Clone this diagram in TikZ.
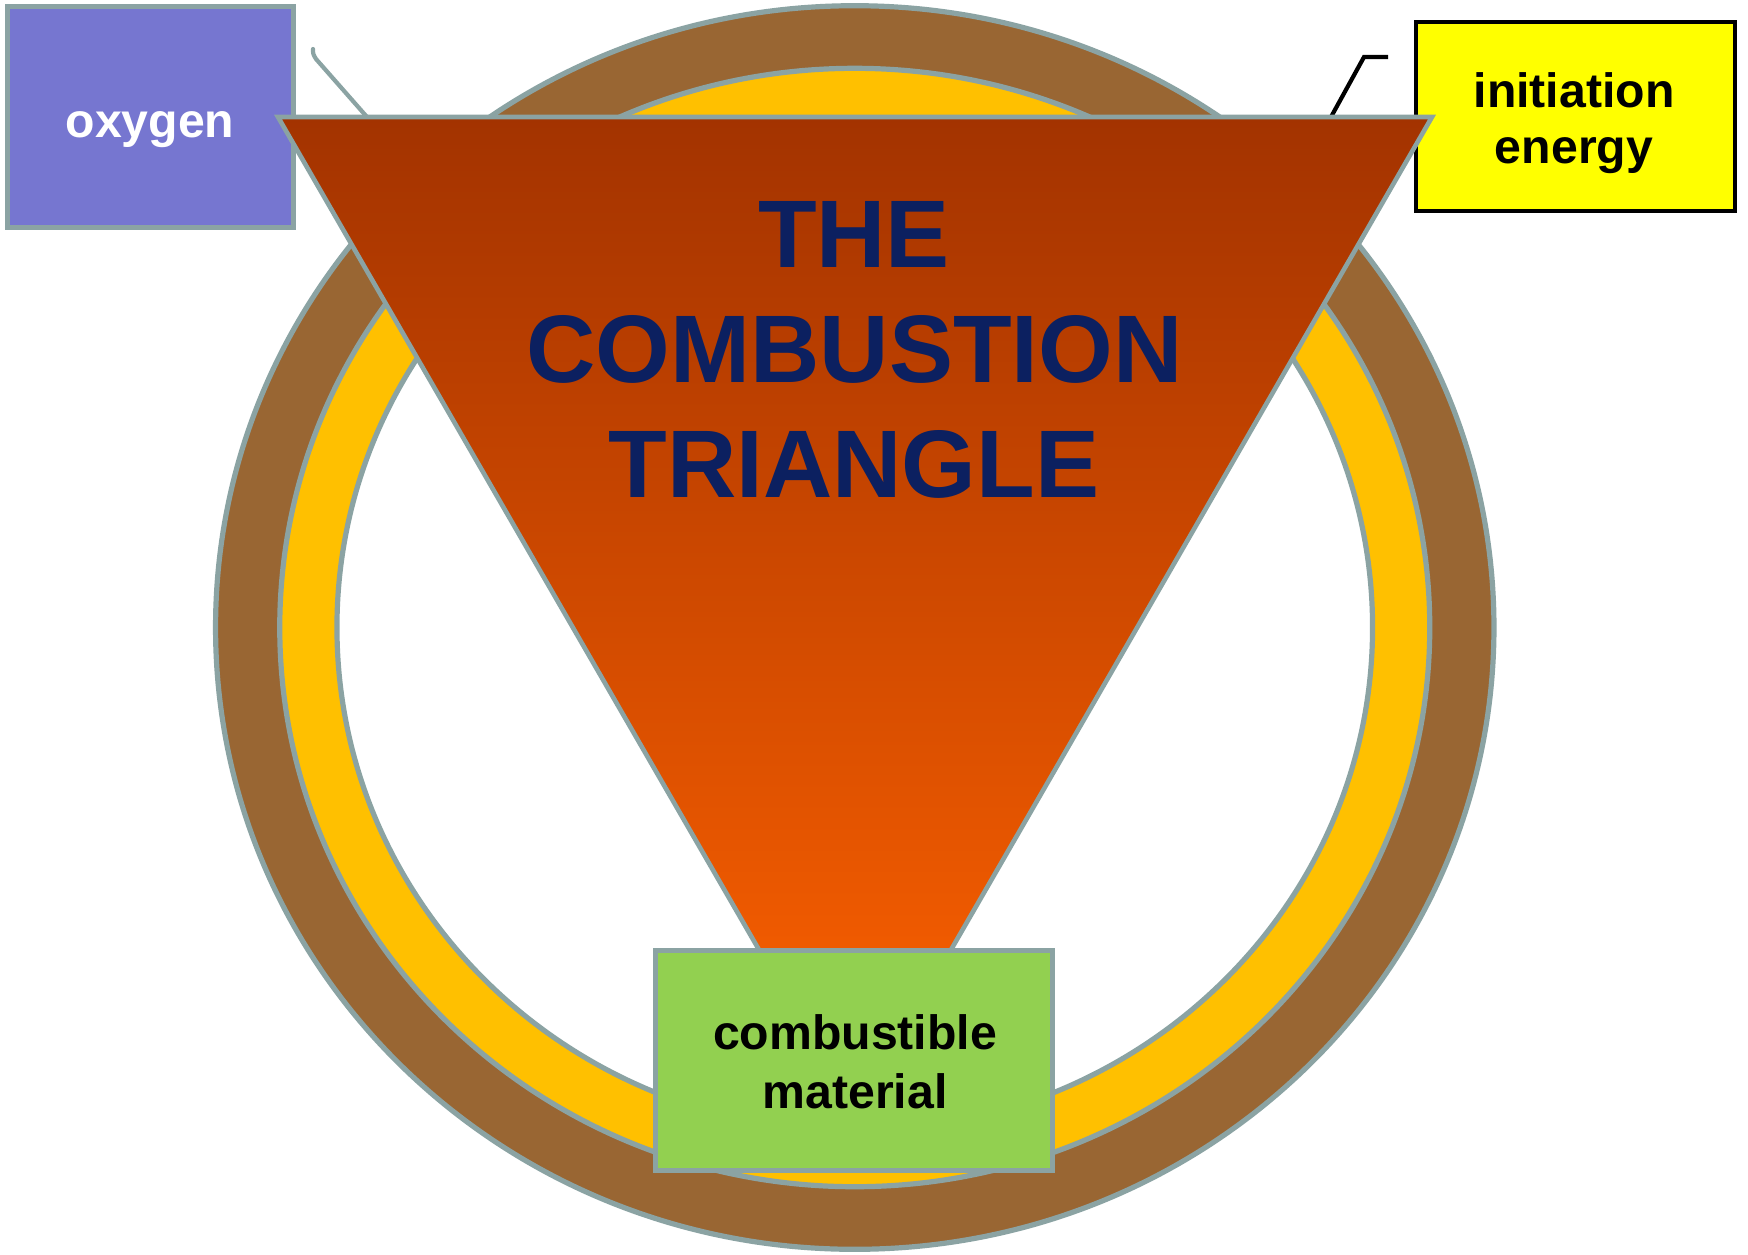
\documentclass[tikz,border=0pt]{standalone}
\usepackage{fontspec}
\setmainfont{Liberation Sans}
\definecolor{gline}{RGB}{139,163,163}
\definecolor{ringbrown}{RGB}{153,102,51}
\definecolor{ringyellow}{RGB}{255,192,0}
\definecolor{oxyfill}{RGB}{118,118,208}
\definecolor{energyfill}{RGB}{255,255,0}
\definecolor{fuelfill}{RGB}{146,208,80}
\definecolor{navy}{RGB}{12,32,96}
\definecolor{tritop}{RGB}{163,51,0}
\definecolor{trimid}{RGB}{228,82,0}
\definecolor{tribot}{RGB}{255,98,0}
\begin{document}
\begin{tikzpicture}[x=0.5pt,y=-0.5pt,
  ringline/.style={draw=gline, line width=2.6pt},
  boxnode/.style={draw=gline, line width=2.4pt, inner sep=0pt, outer sep=0pt},
  boxtext/.style={font=\bfseries\fontsize{24.1}{29}\selectfont, anchor=base, inner sep=0pt},
  titletext/.style={font=\bfseries\fontsize{48}{58}\selectfont, text=navy, anchor=base, inner sep=0pt},
  link/.style={line width=2.1pt, line cap=round, line join=round}]
\useasboundingbox (0,0) rectangle (1748,1254);
\fill[white] (0,0) rectangle (1748,1254);
% ring
\coordinate (ctr) at (854.75,627.5);
\filldraw[ringline, fill=ringbrown] (ctr) ellipse [x radius=319.6pt, y radius=310.9pt];
\filldraw[ringline, fill=ringyellow] (ctr) ellipse [x radius=287.5pt, y radius=279.6pt];
\filldraw[ringline, fill=white] (ctr) ellipse [x radius=258.9pt, y radius=251.8pt];
% boxes behind the triangle
\node[boxnode, fill=oxyfill, minimum width=143pt, minimum height=110.5pt] (oxy) at (150.5,117) {};
\node[boxnode, draw=black, line width=2pt, fill=energyfill, minimum width=159.5pt, minimum height=94.5pt] (energy) at (1575.5,116.5) {};
\node[boxtext, text=white] (oxytxt) at (150,137) {oxygen};
\node[boxtext] (energytxt1) at (1574,107) {initiation};
\node[boxtext] (energytxt2) at (1574,163) {energy};
% triangle corners
\coordinate (tl) at (278,117);
\coordinate (tr) at (1432,117);
\coordinate (apex) at (855,1116);
% connectors
\coordinate (oxyend) at (313,49);
\coordinate (oxybend) at (316,59);
\coordinate (oxytip) at (367,117);
\draw[link, draw=gline] (oxyend) .. controls (313,54) .. (oxybend) -- (oxytip);
\coordinate (enend) at (1388,57);
\coordinate (enbend) at (1364,57);
\coordinate (entip) at (1331,117);
\draw[link, draw=black, line cap=butt, line join=miter] (enend) -- (enbend) -- (entip);
% triangle
\shade[top color=tritop, middle color=trimid, bottom color=tribot] (tl) -- (tr) -- (apex) -- cycle;
\draw[draw=gline, line width=2.3pt, line join=miter] (tl) -- (tr) -- (apex) -- cycle;
\node[titletext] (t1) at (854,267.5) {THE};
\node[titletext] (t2) at (854.5,382) {COMBUSTION};
\node[titletext] (t3) at (854,497) {TRIANGLE};
% fuel box
\node[boxnode, fill=fuelfill, minimum width=198.5pt, minimum height=110pt] (fuel) at (854,1060.5) {};
\node[boxtext] (fueltxt1) at (855,1049) {combustible};
\node[boxtext] (fueltxt2) at (855,1108) {material};
\end{tikzpicture}
\end{document}
